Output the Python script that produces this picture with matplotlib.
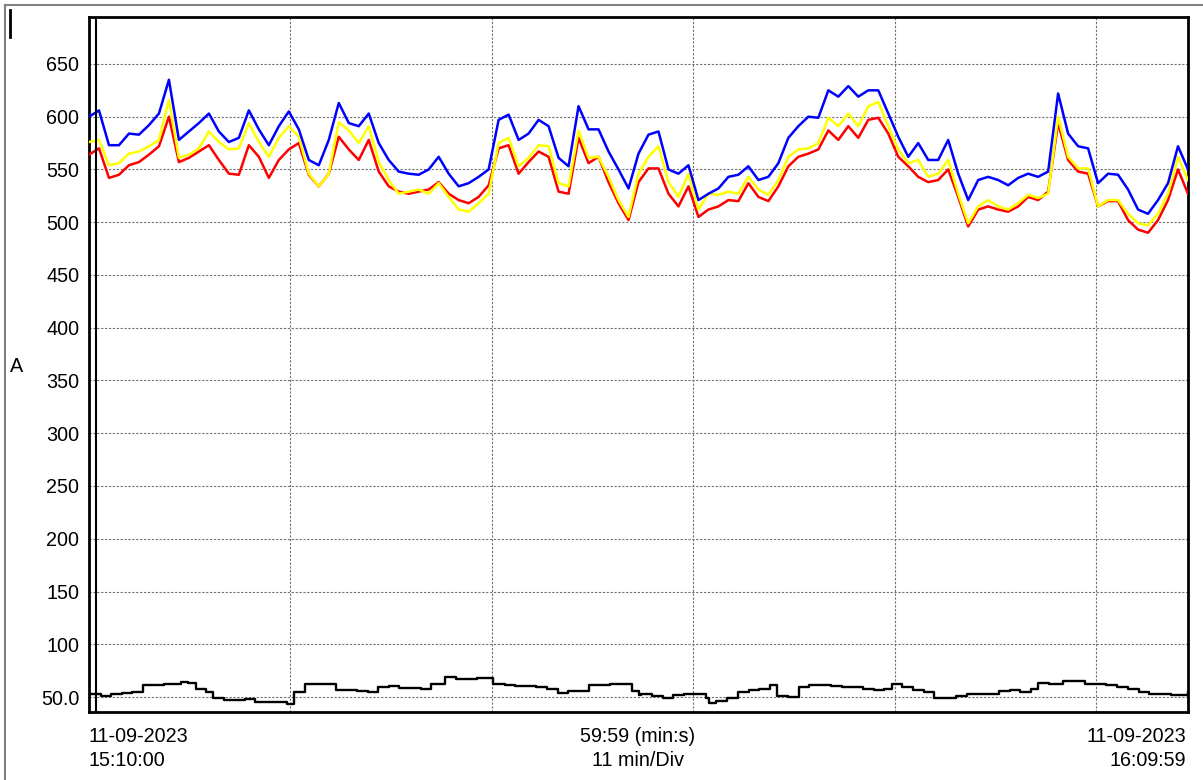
import numpy as np
import matplotlib.pyplot as plt
from matplotlib.lines import Line2D

plt.rcParams['font.family'] = ['Liberation Sans', 'DejaVu Sans']

# --- Data (amps, ~0.55 min apart) ---
blue = [600, 606, 573, 573, 584, 583, 592, 603, 635, 578, 586, 594, 603, 586, 576,
        580, 606, 588, 573, 591, 605, 588, 559, 554, 578, 613, 594, 591, 603, 575,
        559, 548, 546, 545, 550, 562, 546, 534, 537, 543, 550, 597, 602, 578, 584,
        597, 591, 561, 553, 610, 588, 588, 567, 550, 532, 565, 583, 586, 550, 546,
        554, 521, 527, 532, 543, 545, 553, 540, 543, 556, 580, 591, 600, 599, 625,
        619, 629, 619, 625, 625, 603, 581, 562, 575, 559, 559, 578, 546, 521, 540,
        543, 540, 535, 542, 546, 543, 548, 622, 584, 572, 570, 537, 546, 545, 531,
        512, 508, 521, 537, 572, 550]
yellow = [576, 578, 554, 556, 565, 567, 572, 578, 616, 561, 564, 570, 586, 576, 569,
          570, 594, 576, 562, 580, 591, 581, 546, 534, 546, 595, 587, 575, 591, 557,
          540, 527, 529, 531, 527, 537, 524, 512, 510, 518, 527, 575, 580, 553, 561,
          573, 572, 537, 534, 587, 561, 562, 543, 521, 505, 546, 562, 572, 538, 524,
          546, 512, 527, 526, 529, 527, 543, 531, 526, 540, 562, 569, 570, 575, 599,
          591, 603, 591, 610, 614, 591, 569, 556, 559, 543, 546, 559, 527, 499, 515,
          521, 515, 512, 518, 526, 523, 527, 600, 562, 551, 551, 515, 521, 521, 508,
          499, 497, 508, 527, 562, 540]
red = [564, 570, 542, 545, 554, 557, 564, 572, 600, 557, 561, 567, 573, 559, 546,
       545, 573, 562, 542, 559, 569, 575, 545, 534, 546, 581, 569, 559, 578, 548,
       534, 529, 527, 529, 531, 538, 527, 521, 518, 524, 535, 570, 573, 546, 557,
       567, 562, 529, 527, 580, 556, 562, 538, 518, 502, 538, 551, 551, 527, 515,
       534, 505, 512, 515, 521, 520, 537, 524, 520, 534, 553, 562, 565, 569, 587,
       578, 591, 580, 597, 599, 584, 562, 553, 543, 538, 540, 550, 524, 496, 512,
       515, 512, 510, 515, 524, 521, 529, 594, 559, 548, 546, 515, 520, 520, 502,
       493, 490, 502, 521, 550, 527]
minutes = np.linspace(0, 60, len(blue))

black_t = [0.06, 0.63, 1.21, 1.79, 2.36, 2.94, 3.51, 4.09, 4.66, 5.05, 5.43, 5.82,
           6.39, 6.78, 7.35, 7.93, 8.50, 9.08, 9.65, 10.23, 10.81, 11.19, 11.77,
           12.34, 12.92, 13.49, 14.07, 14.64, 15.22, 15.80, 16.37, 16.95, 17.52,
           18.10, 18.68, 19.25, 19.44, 20.02, 20.60, 21.17, 21.75, 22.03, 22.71,
           23.28, 23.86, 24.43, 25.01, 25.59, 26.16, 26.74, 27.31, 27.89, 28.46,
           29.04, 29.62, 30.0, 30.15, 30.73, 31.32, 31.91, 32.49, 33.08, 33.66,
           33.86, 34.25, 34.84, 35.42, 36.01, 36.59, 37.18, 37.57, 38.16, 38.74,
           39.33, 39.91, 40.50, 41.09, 41.67, 42.26, 42.84, 43.43, 43.82, 44.41,
           44.99, 45.58, 46.16, 46.75, 47.34, 47.92, 48.51, 49.09, 49.68, 50.27,
           50.85, 51.44, 51.83, 52.41, 53.20, 53.78, 54.37, 54.95, 55.54, 56.12,
           56.71, 57.30, 57.88, 58.47, 59.06, 59.64, 59.98]
black = [52.8, 51.1, 52.8, 53.7, 54.4, 61.1, 61.7, 62.1, 62.7, 64.4, 63.4, 57.7,
         54.4, 48.8, 47.4, 46.8, 47.8, 45.4, 45.4, 45.4, 43.4, 54.4, 62.1,
         62.7, 62.1, 56.7, 56.7, 56.1, 54.4, 59.4, 60.1, 58.7, 58.7,
         57.7, 62.1, 62.7, 68.7, 66.7, 66.7, 67.7, 67.7, 62.1, 61.1,
         60.1, 60.1, 59.4, 57.7, 53.4, 55.4, 55.4, 61.1, 61.1, 62.1,
         62.1, 56.1, 52.1, 52.6, 51.0, 49.3, 52.0, 53.3, 53.3, 49.3,
         44.2, 46.5, 49.3, 54.3, 56.7, 57.7, 61.1, 51.0, 49.9, 59.4,
         61.8, 61.1, 60.1, 59.4, 59.4, 57.7, 56.7, 57.7, 62.1, 59.4,
         56.7, 54.3, 48.6, 48.6, 51.0, 52.6, 53.3, 53.3, 56.0, 56.7,
         54.3, 57.7, 63.5, 62.1, 65.5, 65.5, 62.1, 62.1, 61.1, 59.4,
         57.7, 54.3, 52.6, 52.6, 52.0, 52.0, 54.3]

y_ticks = [50, 100, 150, 200, 250, 300, 350, 400, 450, 500, 550, 600, 650]
y_labels = ['50.0', '100', '150', '200', '250', '300', '350', '400', '450',
            '500', '550', '600', '650']
x_grid = [11, 22, 33, 44, 55]

FS = 14.2

fig = plt.figure(figsize=(12.03, 7.8), dpi=100)
ax = fig.add_axes([89 / 1203, 1 - 712 / 780, 1099 / 1203, 695 / 780])

ax.plot(minutes, red, color='#ff0000', lw=1.8, zorder=3)
ax.plot(minutes, yellow, color='#ffff00', lw=1.8, zorder=4)
ax.plot(minutes, blue, color='#0000ff', lw=1.8, zorder=5)
ax.plot(black_t, black, color='black', lw=1.7, drawstyle='steps-post', zorder=6)

ax.set_xlim(0, 60)
ax.set_ylim(35.8, 694.5)
ax.set_yticks(y_ticks)
ax.set_yticklabels(y_labels, fontsize=FS)
ax.set_xticks([])
ax.tick_params(axis='y', length=0, pad=7)

for yv in y_ticks:
    ax.axhline(yv, color='#707070', lw=0.8, ls=(0, (2, 1.5)), zorder=1)
for xv in x_grid:
    ax.axvline(xv, color='#707070', lw=0.8, ls=(0, (2, 1.5)), zorder=1)

for sp in ax.spines.values():
    sp.set_linewidth(2)
# second line just inside the left frame
ax.plot([0.006, 0.006], [0, 1], transform=ax.transAxes, color='black', lw=1.5, zorder=7)

fig.text(17 / 1203, 1 - 367 / 780, 'A', fontsize=FS, ha='center', va='center')

fig.text(89 / 1203, 1 - 736 / 780, '11-09-2023', fontsize=FS, ha='left', va='center')
fig.text(89 / 1203, 1 - 761 / 780, '15:10:00', fontsize=FS, ha='left', va='center')
fig.text(638 / 1203, 1 - 736 / 780, '59:59 (min:s)', fontsize=FS, ha='center', va='center')
fig.text(638 / 1203, 1 - 761 / 780, '11 min/Div', fontsize=FS, ha='center', va='center')
fig.text(1186 / 1203, 1 - 736 / 780, '11-09-2023', fontsize=FS, ha='right', va='center')
fig.text(1186 / 1203, 1 - 761 / 780, '16:09:59', fontsize=FS, ha='right', va='center')

# outer window frame
fig.add_artist(Line2D([5 / 1203, 1], [1 - 5 / 780, 1 - 5 / 780], color='#808080', lw=1.5))
fig.add_artist(Line2D([5 / 1203, 5 / 1203], [0, 1 - 5 / 780], color='#808080', lw=1.5))
fig.add_artist(Line2D([9.5 / 1203, 9.5 / 1203], [1 - 10 / 780, 1 - 37 / 780], color='black', lw=2))

fig.savefig('out.png', dpi=100)
